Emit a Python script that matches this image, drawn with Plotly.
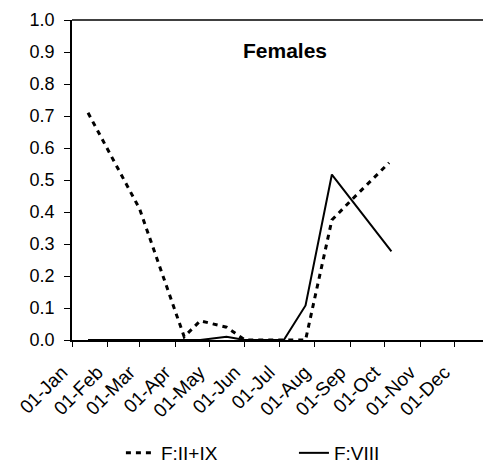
import plotly.graph_objects as go

# Data (sampling dates, proportions)
dates_II_IX = ["2001-01-15", "2001-03-01", "2001-04-09", "2001-04-23", "2001-05-16",
               "2001-06-01", "2001-07-05", "2001-07-24", "2001-08-16", "2001-09-02", "2001-10-05"]
vals_II_IX = [0.71, 0.41, 0.01, 0.06, 0.04, 0.0, 0.0, 0.0, 0.375, 0.437, 0.554]

dates_VIII = ["2001-01-15", "2001-03-01", "2001-04-09", "2001-04-23", "2001-05-16",
              "2001-06-01", "2001-07-05", "2001-07-24", "2001-08-16", "2001-10-07"]
vals_VIII = [0.0, 0.0, 0.0, 0.0, 0.01, 0.0, 0.0, 0.108, 0.517, 0.277]

y_ticks = [0.0, 0.1, 0.2, 0.3, 0.4, 0.5, 0.6, 0.7, 0.8, 0.9, 1.0]

fig = go.Figure()
fig.add_trace(go.Scatter(x=dates_II_IX, y=vals_II_IX, mode="lines", name="F:II+IX",
                         line=dict(color="black", width=3, dash="5px,5px"), legend="legend"))
fig.add_trace(go.Scatter(x=dates_VIII, y=vals_VIII, mode="lines", name="F:VIII",
                         line=dict(color="black", width=2), legend="legend2"))

fig.add_annotation(x="2001-07-06", y=0.905, text="<b>Females</b>", showarrow=False,
                   font=dict(size=21, color="black", family="Liberation Sans, Arial"),
                   xref="x", yref="y")

fig.update_layout(
    width=483, height=472,
    margin=dict(l=72, r=0, t=20, b=127),
    paper_bgcolor="white", plot_bgcolor="white",
    font=dict(family="Liberation Sans, Arial", color="black"),
    showlegend=True,
    legend=dict(x=0.119, y=-0.355, xanchor="left", yanchor="middle", orientation="h",
                font=dict(size=19), bgcolor="rgba(0,0,0,0)"),
    legend2=dict(x=0.54, y=-0.355, xanchor="left", yanchor="middle", orientation="h",
                 font=dict(size=19), bgcolor="rgba(0,0,0,0)"),
    xaxis=dict(type="date", range=["2001-01-01", "2001-12-26"], dtick="M1",
               tick0="2001-01-01", tickformat="%d-%b", tickangle=-45,
               showgrid=False, zeroline=False, showline=True, linecolor="black", linewidth=1.5,
               ticks="outside", ticklen=5, tickcolor="black", tickfont=dict(size=19),
               ticklabelstandoff=7, ticklabelshift=-10),
    yaxis=dict(range=[0, 1], tickvals=y_ticks, tickformat=".1f",
               showgrid=False, zeroline=False, showline=True, linecolor="black", linewidth=1.5,
               mirror=False, ticks="outside", ticklen=6, tickcolor="black",
               tickfont=dict(size=18), ticklabelstandoff=6),
)
# top border line
fig.add_shape(type="line", xref="paper", yref="paper", x0=0, x1=1, y0=1, y1=1,
              line=dict(color="black", width=1.5))

fig.write_html("out.html")
